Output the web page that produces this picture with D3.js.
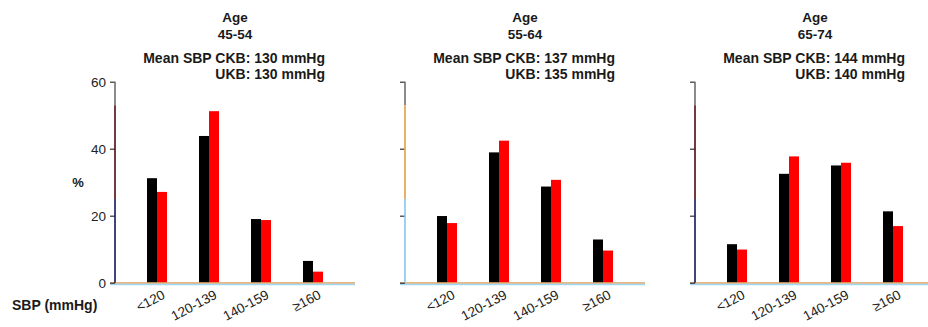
<!DOCTYPE html>
<html>
<head>
<meta charset="utf-8">
<script src="https://cdn.jsdelivr.net/npm/d3@7"></script>
<style>
  body { margin: 0; background: #fff; }
  svg { display: block; font-family: "Liberation Sans", Arial, sans-serif; }
</style>
</head>
<body>
<svg width="928" height="327"></svg>
<script>
// Data
var categories = ["<120", "120-139", "140-159", "≥160"];
var ageGroups = ["45-54", "55-64", "65-74"];
var meanCKB = [130, 137, 144];
var meanUKB = [130, 135, 140];
var ckbValues = [
    [31.2, 43.8, 19.0, 6.5],
    [19.9, 38.9, 28.7, 12.9],
    [11.5, 32.5, 35.0, 21.3]
];
var ukbValues = [
    [27.1, 51.2, 18.7, 3.3],
    [17.8, 42.4, 30.7, 9.6],
    [9.9, 37.7, 35.8, 16.9]
];
var yTicks = [0, 20, 40, 60];

// colours of the y axis line pieces (from top) in each panel
var axisBreaks = [60, 53, 25, 0];
var axisColours = [
    ["#6e6e6e", "#4a0c0c", "#14145e"],
    ["#6e6e6e", "#e0a040", "#80c8ec"],
    ["#6e6e6e", "#4a0c0c", "#14145e"]
];

var svg = d3.select("svg");

// panels
var panelX = d3.scaleBand()
    .domain(ageGroups)
    .range([115, 115 + 3 * 290]);
var panelW = 240;

var y = d3.scaleLinear()
    .domain([0, 60])
    .range([282.7, 81.7]);

var x = d3.scaleBand()
    .domain(categories)
    .range([0, panelW])
    .paddingInner(0)
    .paddingOuter(16 / 52);

var barW = 10;
var series = d3.scaleOrdinal()
    .domain(["CKB", "UKB"])
    .range([-barW, 0]);
var colour = d3.scaleOrdinal()
    .domain(["CKB", "UKB"])
    .range(["#000000", "#ff0000"]);

ageGroups.forEach(function (age, i) {
    var g = svg.append("g")
        .attr("transform", "translate(" + panelX(age) + ",0)");

    // title
    var t = g.append("g")
        .style("font-weight", "bold")
        .style("font-size", "13.5px")
        .attr("fill", "#1a1a1a");
    t.append("text").attr("x", 120).attr("y", 22).attr("text-anchor", "middle").text("Age");
    t.append("text").attr("x", 120).attr("y", 38.5).attr("text-anchor", "middle").text(age);
    t.append("text").attr("x", 210).attr("y", 62.5).attr("text-anchor", "end")
        .style("font-size", "14px")
        .text("Mean SBP CKB: " + meanCKB[i] + " mmHg");
    t.append("text").attr("x", 210).attr("y", 79).attr("text-anchor", "end")
        .style("font-size", "14px")
        .text("UKB: " + meanUKB[i] + " mmHg");

    // bars
    var rows = categories.map(function (c, j) {
        return [
            {cat: c, s: "CKB", v: ckbValues[i][j]},
            {cat: c, s: "UKB", v: ukbValues[i][j]}
        ];
    });
    g.append("g").selectAll("rect")
        .data(d3.merge(rows))
        .enter().append("rect")
        .attr("x", function (d) { return x(d.cat) + x.bandwidth() / 2 + series(d.s); })
        .attr("width", barW)
        .attr("y", function (d) { return y(d.v); })
        .attr("height", function (d) { return y(0) - y(d.v); })
        .attr("fill", function (d) { return colour(d.s); });

    // baseline
    g.append("line")
        .attr("x1", -5).attr("x2", panelW)
        .attr("y1", y(0) + 0.3).attr("y2", y(0) + 0.3)
        .attr("stroke", "#dea060").attr("stroke-width", 1.3);
    g.append("line")
        .attr("x1", -5).attr("x2", panelW)
        .attr("y1", y(0) + 1.8).attr("y2", y(0) + 1.8)
        .attr("stroke", "#a0d8f4").attr("stroke-width", 1.5);

    // y axis
    var yAxis = g.append("g")
        .call(d3.axisLeft(y)
            .tickValues(yTicks)
            .tickSize(5)
            .tickPadding(4)
            .tickFormat(i === 0 ? d3.format("d") : function () { return ""; }));
    yAxis.select(".domain").remove();
    yAxis.selectAll(".tick line").attr("stroke", "#333").attr("stroke-width", 1.2);
    yAxis.selectAll(".tick text")
        .style("font-size", "13.5px")
        .style("font-family", "Liberation Sans, Arial, sans-serif")
        .attr("fill", "#222");

    for (var k = 0; k < 3; k++) {
        g.append("line")
            .attr("x1", 0).attr("x2", 0)
            .attr("y1", y(axisBreaks[k])).attr("y2", y(axisBreaks[k + 1]))
            .attr("stroke", axisColours[i][k]).attr("stroke-width", 1.6);
    }

    // x tick labels
    var xAxis = g.append("g")
        .attr("transform", "translate(0," + y(0) + ")")
        .call(d3.axisBottom(x).tickSize(0));
    xAxis.select(".domain").remove();
    xAxis.selectAll(".tick text")
        .style("font-size", "13.5px")
        .style("font-family", "Liberation Sans, Arial, sans-serif")
        .attr("fill", "#222")
        .attr("text-anchor", "end")
        .attr("x", 0).attr("y", 0).attr("dy", 0)
        .attr("transform", "translate(9,15) rotate(-28)");
});

// axis titles
svg.append("text")
    .attr("x", 78).attr("y", 187)
    .attr("text-anchor", "middle")
    .style("font-weight", "bold").style("font-size", "13px")
    .attr("fill", "#1a1a1a")
    .text("%");
svg.append("text")
    .attr("x", 12).attr("y", 310)
    .style("font-weight", "bold").style("font-size", "14px")
    .attr("fill", "#1a1a1a")
    .text("SBP (mmHg)");
</script>
</body>
</html>
